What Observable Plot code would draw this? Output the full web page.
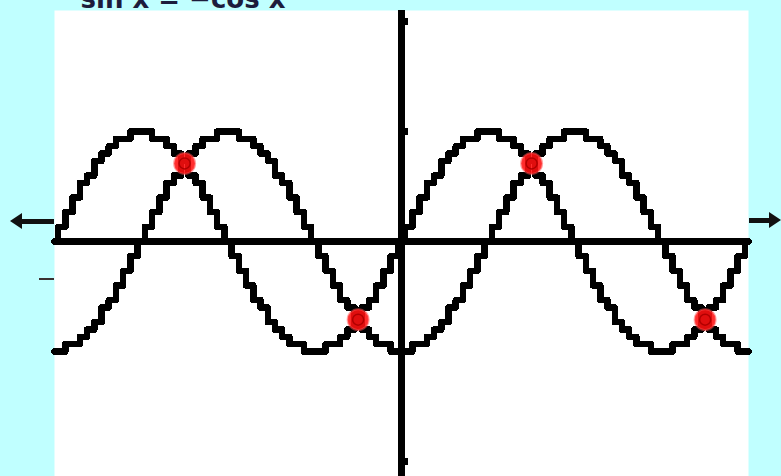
<!DOCTYPE html>
<html>
<head>
<meta charset="utf-8">
<script src="https://cdn.jsdelivr.net/npm/d3@7"></script>
<script src="https://cdn.jsdelivr.net/npm/@observablehq/plot@0.6"></script>
<style>
  html, body { margin: 0; padding: 0; }
  body { width: 781px; height: 476px; background: #c0ffff; position: relative; overflow: hidden; }
  #chart { position: absolute; left: 0; top: 0; }
  .arrow { position: absolute; height: 5px; background: #111; filter: blur(0.6px); }
  .arrow::before { content: ""; position: absolute; top: -6px; border-top: 8.5px solid transparent; border-bottom: 8.5px solid transparent; }
  .arrow.left::before { left: -10px; border-right: 12px solid #111; }
  .arrow.right::before { right: -10px; border-left: 12px solid #111; }
  .dash { position: absolute; height: 2px; background: #3a3030; filter: blur(0.4px); }
</style>
</head>
<body>
<div class="arrow left" style="left:20px; top:219px; width:34px;"></div>
<div class="arrow right" style="left:749px; top:218px; width:22px;"></div>
<div class="dash" style="left:39px; top:278px; width:15px;"></div>
<div id="chart"></div>
<script>
// Screen columns: one every π/24 from −2π to 2π (97 columns)
const step = Math.PI / 24;
const columnIndex = d3.range(-48, 49);

// Screen rows lit in each column (15 rows = 1 unit)
const rowsPerUnit = 15;

// y = sin x
const sinRows = [
  0, 2, 4, 6, 8, 9, 11, 12, 13, 14, 14, 15, 15, 15, 14, 14, 13, 12, 11, 9, 8, 6, 4, 2,
  0, -2, -4, -6, -8, -9, -11, -12, -13, -14, -14, -15, -15, -15, -14, -14, -13, -12, -11, -9, -8, -6, -4, -2,
  0, 2, 4, 6, 8, 9, 11, 12, 13, 14, 14, 15, 15, 15, 14, 14, 13, 12, 11, 9, 8, 6, 4, 2,
  0, -2, -4, -6, -8, -9, -11, -12, -13, -14, -14, -15, -15, -15, -14, -14, -13, -12, -11, -9, -8, -6, -4, -2,
  0
];

// y = −cos x
const negCosRows = [
  -15, -15, -14, -14, -13, -12, -11, -9, -8, -6, -4, -2, 0, 2, 4, 6, 8, 9, 11, 12, 13, 14, 14, 15,
  15, 15, 14, 14, 13, 12, 11, 9, 8, 6, 4, 2, 0, -2, -4, -6, -8, -9, -11, -12, -13, -14, -14, -15,
  -15, -15, -14, -14, -13, -12, -11, -9, -8, -6, -4, -2, 0, 2, 4, 6, 8, 9, 11, 12, 13, 14, 14, 15,
  15, 15, 14, 14, 13, 12, 11, 9, 8, 6, 4, 2, 0, -2, -4, -6, -8, -9, -11, -12, -13, -14, -14, -15,
  -15
];

// Solutions of sin x = −cos x in [−2π, 2π] (in multiples of π) and their y values
const solutionsPi = [-1.25, -0.25, 0.75, 1.75];
const solutionsY = [0.71, -0.71, 0.71, -0.71];

// Y-axis tick marks
const yTicks = [-2, -1, 1, 2];

const title = "sin x = −cos x";

const sinData = columnIndex.map((k, i) => ({x: k * step, y: sinRows[i] / rowsPerUnit}));
const negCosData = columnIndex.map((k, i) => ({x: k * step, y: negCosRows[i] / rowsPerUnit}));
const solutions = solutionsPi.map((p, i) => ({x: p * Math.PI, y: solutionsY[i]}));

const chart = Plot.plot({
  width: 781,
  height: 476,
  marginLeft: 54,
  marginRight: 33,
  marginTop: 10,
  marginBottom: 0,
  style: {background: "transparent", overflow: "visible"},
  x: {domain: [-2 * Math.PI, 2 * Math.PI], axis: null},
  y: {domain: [-2.136, 2.1], axis: null},
  marks: [
    Plot.frame({fill: "white", stroke: null}),
    Plot.ruleY([0], {stroke: "black", strokeWidth: 7, shapeRendering: "crispEdges"}),
    Plot.ruleX([0], {stroke: "black", strokeWidth: 7, shapeRendering: "crispEdges"}),
    Plot.ruleY(yTicks, {x1: 0, x2: 0.13, stroke: "black", strokeWidth: 7, shapeRendering: "crispEdges"}),
    Plot.line(sinData, {x: "x", y: "y", curve: "step", stroke: "black", strokeWidth: 6.5, shapeRendering: "crispEdges"}),
    Plot.line(negCosData, {x: "x", y: "y", curve: "step", stroke: "black", strokeWidth: 6.5, shapeRendering: "crispEdges"}),
    Plot.dot(solutions, {x: "x", y: "y", r: 10.5, fill: "#ff1010", fillOpacity: 0.88, stroke: "#ff5050", strokeOpacity: 0.5, strokeWidth: 2}),
    Plot.dot(solutions, {x: "x", y: "y", r: 5.5, fill: "none", stroke: "#b00000", strokeWidth: 1.5}),
    Plot.text([title], {frameAnchor: "top-left", dx: 26, dy: -3, lineAnchor: "bottom", textAnchor: "start",
      fontFamily: "DejaVu Sans", fontWeight: "bold", fontSize: 26, fill: "#1c1c3c"})
  ]
});
document.getElementById("chart").append(chart);
</script>
</body>
</html>
